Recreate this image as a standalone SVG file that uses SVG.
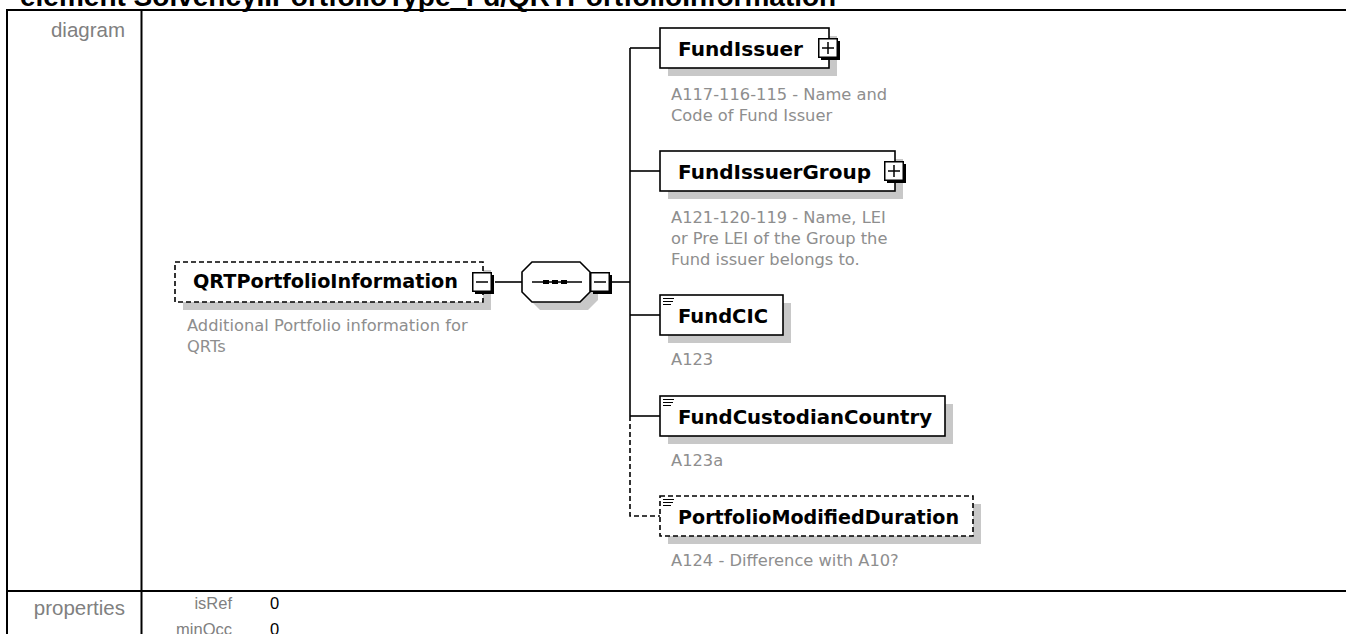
<svg xmlns="http://www.w3.org/2000/svg" xmlns:xlink="http://www.w3.org/1999/xlink" width="1346" height="634" viewBox="0 0 1346 634">
  <style>
    .frame { stroke:#000; stroke-width:2; fill:none }
    .box { fill:#fff; stroke:#000; stroke-width:1.6 }
    .dash { stroke-dasharray:5 3 }
    .shadow { fill:#c8c8c8 }
    .name { font-family:"DejaVu Sans", "Liberation Sans", sans-serif; font-weight:bold; font-size:19px; fill:#000 }
    .desc { font-family:"DejaVu Sans", "Liberation Sans", sans-serif; font-size:16.3px; fill:#8e8e8e }
    .lbl { font-family:"Liberation Sans", Arial, sans-serif; font-size:20.5px; fill:#808080 }
    .prop { font-family:"Liberation Sans", Arial, sans-serif; font-size:16.5px; fill:#808080 }
    .val { font-family:"Liberation Sans", Arial, sans-serif; font-size:16.5px; fill:#000 }
    .title { font-family:"Liberation Sans", Arial, sans-serif; font-weight:bold; font-size:28px; fill:#000 }
    .conn { stroke:#000; stroke-width:1.6; fill:none }
    .icon { stroke:#000; stroke-width:1; fill:none }
  </style>
  <defs>
    <g id="minusbox">
      <rect x="3" y="3" width="19" height="19" fill="#000"/>
      <rect x="0.75" y="0.75" width="18.5" height="18.5" fill="#fff" stroke="#000" stroke-width="1.5"/>
      <line x1="4" y1="10" x2="16" y2="10" stroke="#000" stroke-width="1.5"/>
    </g>
    <g id="plusbox">
      <rect x="3" y="3" width="19" height="19" fill="#000"/>
      <rect x="0.75" y="0.75" width="18.5" height="18.5" fill="#fff" stroke="#000" stroke-width="1.5"/>
      <line x1="4" y1="10" x2="16" y2="10" stroke="#000" stroke-width="1.5"/>
      <line x1="10" y1="4" x2="10" y2="16" stroke="#000" stroke-width="1.5"/>
    </g>
    <g id="simpleicon">
      <line x1="0" y1="0.5" x2="11" y2="0.5" class="icon"/>
      <line x1="0" y1="3.5" x2="10" y2="3.5" class="icon"/>
      <line x1="0" y1="6.5" x2="8" y2="6.5" class="icon"/>
    </g>
  </defs>

  <rect x="0" y="0" width="1346" height="634" fill="#fff"/>

  <!-- page title (clipped at top) -->
  <text class="title" x="20" y="6">element SolvencyIIPortfolioType_Fd/QRTPortfolioInformation</text>

  <!-- table frame -->
  <g id="table">
    <line class="frame" x1="6" y1="10" x2="1346" y2="10"/>
    <line class="frame" x1="7" y1="10" x2="7" y2="634"/>
    <line class="frame" x1="141.5" y1="10" x2="141.5" y2="634"/>
    <line class="frame" x1="6" y1="591" x2="1346" y2="591"/>
    <text class="lbl" x="125" y="37" text-anchor="end">diagram</text>
    <text class="lbl" x="125" y="615" text-anchor="end">properties</text>
    <text class="prop" x="232" y="609" text-anchor="end">isRef</text>
    <text class="val" x="270" y="609">0</text>
    <text class="prop" x="232" y="635" text-anchor="end">minOcc</text>
    <text class="val" x="270" y="635">0</text>
  </g>

  <!-- connectors -->
  <g id="connectors">
    <line class="conn" x1="495" y1="282" x2="522" y2="282"/>
    <line class="conn" x1="610" y1="282" x2="630" y2="282"/>
    <line class="conn" x1="630" y1="48" x2="630" y2="416"/>
    <line class="conn" x1="630" y1="48" x2="660" y2="48"/>
    <line class="conn" x1="630" y1="171" x2="660" y2="171"/>
    <line class="conn" x1="630" y1="315" x2="660" y2="315"/>
    <line class="conn" x1="630" y1="416" x2="660" y2="416"/>
    <path class="conn dash" d="M630 416 V516 H660"/>
  </g>

  <!-- root element -->
  <g id="node-QRTPortfolioInformation">
    <rect class="shadow" x="183" y="270" width="308" height="40"/>
    <rect class="box dash" x="175" y="262" width="308" height="40"/>
    <text class="name" x="193" y="288" textLength="265" lengthAdjust="spacingAndGlyphs">QRTPortfolioInformation</text>
    <use xlink:href="#minusbox" x="472" y="272"/>
    <text class="desc" x="187" y="331">Additional Portfolio information for</text>
    <text class="desc" x="187" y="352">QRTs</text>
  </g>

  <!-- sequence compositor -->
  <g id="node-sequence">
    <polygon class="shadow" points="540,270 588,270 598,280 598,300 588,310 540,310 530,300 530,280"/>
    <polygon class="box" points="532,262 580,262 590,272 590,292 580,302 532,302 522,292 522,272"/>
    <line x1="532" y1="282" x2="582" y2="282" stroke="#000" stroke-width="1.5"/>
    <rect x="543" y="280" width="6" height="4" fill="#000"/>
    <rect x="552" y="280" width="6" height="4" fill="#000"/>
    <rect x="561" y="280" width="6" height="4" fill="#000"/>
    <use xlink:href="#minusbox" x="590" y="272"/>
  </g>

  <g id="node-FundIssuer">
    <rect class="shadow" x="668" y="36" width="169" height="40"/>
    <rect class="box" x="660" y="28" width="169" height="40"/>
    <text class="name" x="678" y="56" textLength="125" lengthAdjust="spacingAndGlyphs">FundIssuer</text>
    <use xlink:href="#plusbox" x="818" y="38"/>
    <text class="desc" x="671" y="100">A117-116-115 - Name and</text>
    <text class="desc" x="671" y="121">Code of Fund Issuer</text>
  </g>

  <g id="node-FundIssuerGroup">
    <rect class="shadow" x="668" y="159" width="235" height="40"/>
    <rect class="box" x="660" y="151" width="235" height="40"/>
    <text class="name" x="678" y="179" textLength="193" lengthAdjust="spacingAndGlyphs">FundIssuerGroup</text>
    <use xlink:href="#plusbox" x="884" y="161"/>
    <text class="desc" x="671" y="223">A121-120-119 - Name, LEI</text>
    <text class="desc" x="671" y="244">or Pre LEI of the Group the</text>
    <text class="desc" x="671" y="265">Fund issuer belongs to.</text>
  </g>

  <g id="node-FundCIC">
    <rect class="shadow" x="668" y="303" width="123" height="40"/>
    <rect class="box" x="660" y="295" width="123" height="40"/>
    <use xlink:href="#simpleicon" x="663" y="298"/>
    <text class="name" x="678" y="323" textLength="90" lengthAdjust="spacingAndGlyphs">FundCIC</text>
    <text class="desc" x="671" y="365">A123</text>
  </g>

  <g id="node-FundCustodianCountry">
    <rect class="shadow" x="668" y="404" width="285" height="40"/>
    <rect class="box" x="660" y="396" width="285" height="40"/>
    <use xlink:href="#simpleicon" x="663" y="399"/>
    <text class="name" x="678" y="424" textLength="254" lengthAdjust="spacingAndGlyphs">FundCustodianCountry</text>
    <text class="desc" x="671" y="466">A123a</text>
  </g>

  <g id="node-PortfolioModifiedDuration">
    <rect class="shadow" x="668" y="504" width="313" height="40"/>
    <rect class="box dash" x="660" y="496" width="313" height="40"/>
    <use xlink:href="#simpleicon" x="663" y="499"/>
    <text class="name" x="678" y="524" textLength="281" lengthAdjust="spacingAndGlyphs">PortfolioModifiedDuration</text>
    <text class="desc" x="671" y="566">A124 - Difference with A10?</text>
  </g>
</svg>
